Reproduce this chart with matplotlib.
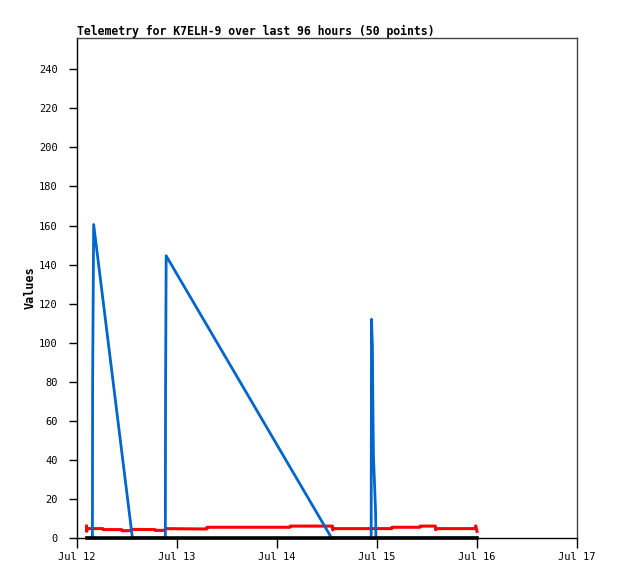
"""Telemetry chart for K7ELH-9, last 96 hours. Headless Agg render to out.png."""

from datetime import datetime, timedelta

import matplotlib

matplotlib.use("Agg")

import matplotlib.dates as mdates  # noqa: E402
import matplotlib.pyplot as plt  # noqa: E402

# hours after Jul 12 00:00 and the value read at that time
START = datetime(2024, 7, 12)

blue_hours = [2.3, 3.7, 3.75, 4.0, 13.3, 21.2, 21.25, 21.4, 61.1,
              70.6, 70.68, 70.9, 71.0, 71.15, 71.65, 71.75, 96.0]
blue_vals = [0, 0, 80, 160.5, 0, 0, 72, 144.5, 0,
             0, 112, 98, 70, 42, 14, 0, 0]

red_hours = [2.3, 2.33, 2.36, 6.2, 6.3, 10.7, 10.8, 13.1, 13.2, 18.7, 18.8,
             21.1, 21.2, 31.1, 31.2, 51.1, 51.2, 61.3, 61.4, 61.5, 75.5, 75.6,
             82.3, 82.4, 86.0, 86.1, 86.2, 95.5, 95.7, 96.0]
red_vals = [6.1, 3.4, 4.8, 4.8, 4.3, 4.3, 3.7, 3.8, 4.4, 4.3, 3.9,
            3.9, 4.8, 4.6, 5.5, 5.5, 6.1, 6.1, 4.1, 4.8, 4.8, 5.5,
            5.5, 6.1, 6.1, 4.2, 4.8, 4.8, 6.2, 3.4]

black_hours = [2.3, 96.0]
black_vals = [0, 0]

y_ticks = list(range(0, 241, 20))


def to_dates(hours):
    return [START + timedelta(hours=h) for h in hours]


plt.rcParams["font.family"] = ["DejaVu Sans Mono"]

fig = plt.figure(figsize=(6.18, 5.79), dpi=100)
ax = fig.add_axes([77 / 618, 41 / 579, 500 / 618, 500 / 579])

ax.plot(to_dates(red_hours), red_vals, color="#ff0000", linewidth=2.2, zorder=3)
ax.plot(to_dates(blue_hours), blue_vals, color="#0066cc", linewidth=2.0, zorder=4)
# zero series sits on top, hiding the blue wherever it rests at 0
ax.plot(to_dates(black_hours), black_vals, color="black", linewidth=2.6,
        clip_on=False, zorder=5)

ax.set_xlim(START, START + timedelta(days=5))
ax.set_ylim(0, 256)
ax.set_yticks(y_ticks)
ax.xaxis.set_major_locator(mdates.DayLocator())
ax.xaxis.set_major_formatter(mdates.DateFormatter("%b %d"))

ax.tick_params(axis="both", direction="out", width=1, color="black",
               labelsize=7.5, labelcolor="black")
ax.tick_params(axis="x", length=7, pad=3)
ax.tick_params(axis="y", length=6, pad=8)

for side in ("left", "bottom"):
    ax.spines[side].set_color("black")
    ax.spines[side].set_linewidth(1)
for side in ("top", "right"):
    ax.spines[side].set_color("#444444")
    ax.spines[side].set_linewidth(1)

ax.set_title("Telemetry for K7ELH-9 over last 96 hours (50 points)",
             loc="left", fontsize=8.3, fontweight="bold", pad=2)
ax.set_ylabel("Values", fontsize=8.5, fontweight="bold")
ax.yaxis.set_label_coords(-0.08, 0.5)

fig.savefig("out.png", dpi=100)
